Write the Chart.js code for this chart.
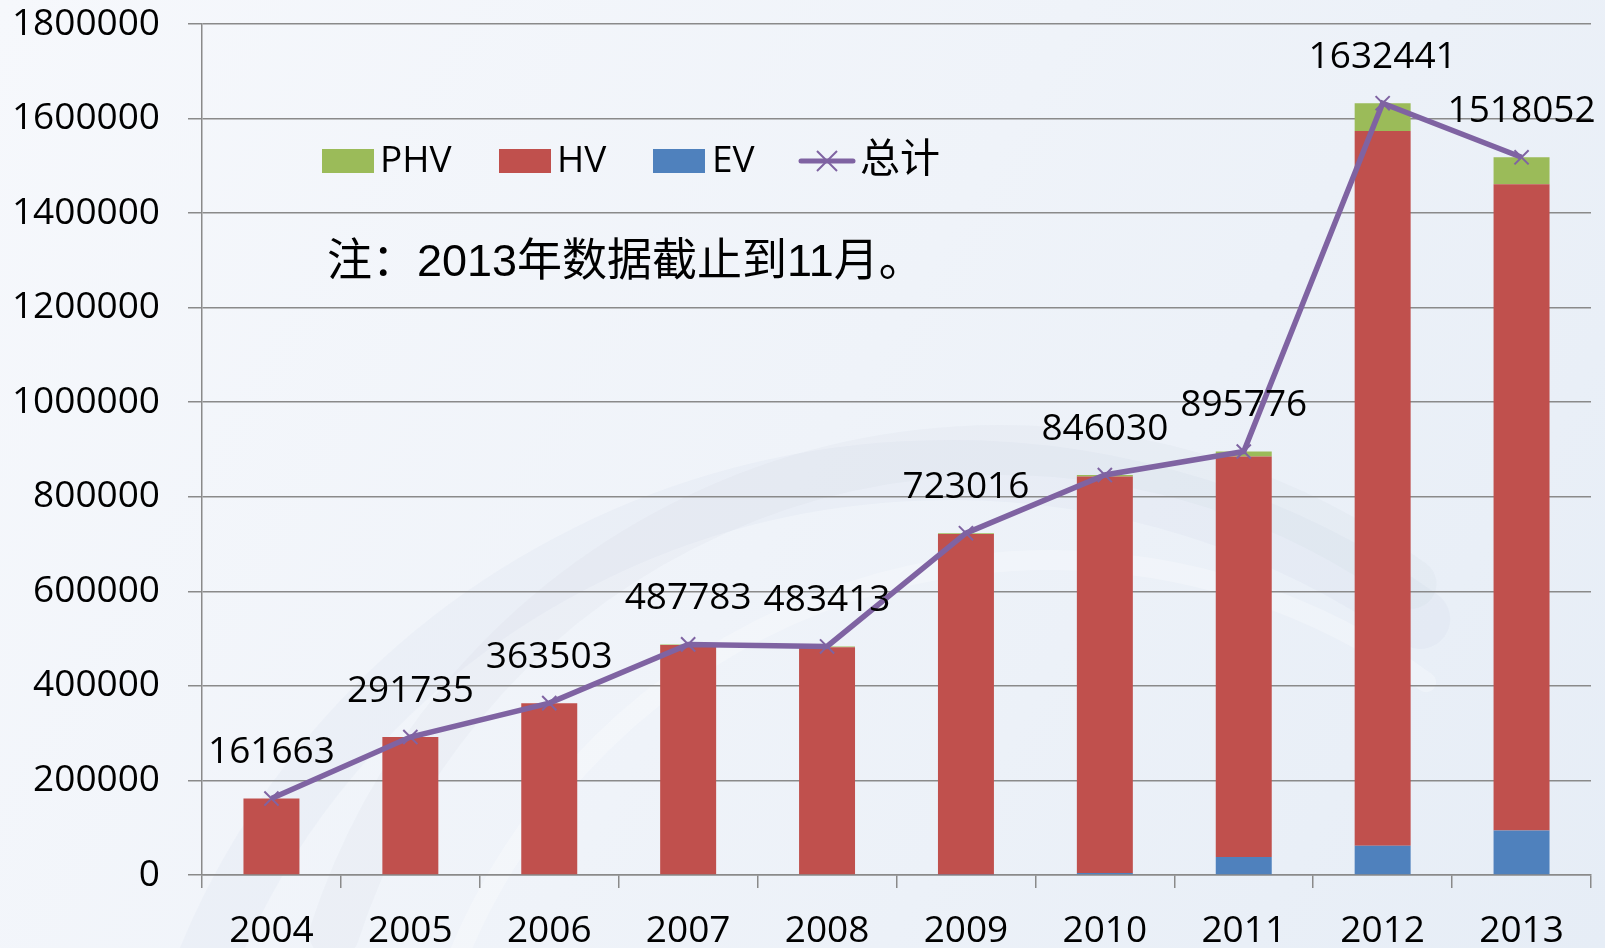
<!DOCTYPE html>
<html>
<head>
<meta charset="utf-8">
<script src="https://cdn.jsdelivr.net/npm/chart.js@4.4.1/dist/chart.umd.min.js"></script>
<style>
  html, body { margin: 0; padding: 0; background: #f1f5fa; }
  #wrap { width: 1605px; height: 948px; position: relative; }
  canvas { display: block; }
</style>
</head>
<body>
<div id="wrap"><canvas id="c" width="1605" height="948"></canvas></div>
<script>
// ---- data ----
const categories = ['2004','2005','2006','2007','2008','2009','2010','2011','2012','2013'];
const evValues   = [0, 0, 0, 0, 0, 1000, 4000, 38000, 62000, 94000];
const hvValues   = [161663, 291735, 363503, 486283, 481913, 720016, 839030, 847176, 1511441, 1367052];
const phvValues  = [0, 0, 0, 1500, 1500, 2000, 3000, 10600, 59000, 57000];
const totalValues = [161663, 291735, 363503, 487783, 483413, 723016, 846030, 895776, 1632441, 1518052];
const yTicks = [0, 200000, 400000, 600000, 800000, 1000000, 1200000, 1400000, 1600000, 1800000];
const seriesNames = { phv: 'PHV', hv: 'HV', ev: 'EV', total: '总计' };
const noteText = '注：2013年数据截止到11月。';

const C_PHV = '#9BBB59', C_HV = '#C0504D', C_EV = '#4F81BD', C_TOT = '#7F63A2';
const FONT = '"Open Sans", "Noto Sans CJK SC", sans-serif';

const bgPlugin = {
  id: 'bg',
  beforeDraw(chart) {
    const ctx = chart.ctx, w = chart.width, h = chart.height;
    ctx.save();
    const g = ctx.createLinearGradient(0, 0, w, h);
    g.addColorStop(0, '#f6f8fc');
    g.addColorStop(0.5, '#eff3f9');
    g.addColorStop(1, '#e6edf6');
    ctx.fillStyle = g;
    ctx.fillRect(0, 0, w, h);
    ctx.lineCap = 'round';
    const arcs = [
      [1000, 1150, 700, 700, 'rgba(170,185,205,0.07)', 50],
      [1050, 1200, 640, 640, 'rgba(255,255,255,0.25)', 20],
      [950, 1250, 800, 780, 'rgba(160,178,200,0.06)', 60]
    ];
    arcs.forEach(a => {
      ctx.beginPath();
      ctx.ellipse(a[0], a[1], a[2], a[3], 0, Math.PI * 1.1, Math.PI * 1.7);
      ctx.strokeStyle = a[4];
      ctx.lineWidth = a[5];
      ctx.stroke();
    });
    ctx.restore();
  }
};

const labelPlugin = {
  id: 'valueLabels',
  afterDatasetsDraw(chart) {
    const ctx = chart.ctx;
    const meta = chart.getDatasetMeta(0);
    ctx.save();
    ctx.font = '37px ' + FONT;
    ctx.fillStyle = '#000';
    ctx.textAlign = 'center';
    ctx.textBaseline = 'middle';
    meta.data.forEach((pt, i) => {
      ctx.fillText(String(totalValues[i]), pt.x, pt.y - 46);
    });
    ctx.restore();
  }
};

const legendPlugin = {
  id: 'customLegend',
  afterDraw(chart) {
    const ctx = chart.ctx;
    ctx.save();
    const cy = 161;
    ctx.font = '37px ' + FONT;
    ctx.fillStyle = '#000';
    ctx.textBaseline = 'middle';
    ctx.textAlign = 'left';
    const items = [
      [322, C_PHV, seriesNames.phv, 380],
      [499, C_HV, seriesNames.hv, 557],
      [653, C_EV, seriesNames.ev, 712]
    ];
    items.forEach(it => {
      ctx.fillStyle = it[1];
      ctx.fillRect(it[0], cy - 12, 52, 24);
      ctx.fillStyle = '#000';
      ctx.fillText(it[2], it[3], cy);
    });
    ctx.strokeStyle = C_TOT;
    ctx.lineWidth = 5;
    ctx.lineCap = 'round';
    ctx.beginPath();
    ctx.moveTo(801, cy); ctx.lineTo(853, cy);
    ctx.stroke();
    ctx.lineWidth = 2;
    ctx.lineCap = 'butt';
    ctx.beginPath();
    ctx.moveTo(827 - 10, cy - 10); ctx.lineTo(827 + 10, cy + 10);
    ctx.moveTo(827 + 10, cy - 10); ctx.lineTo(827 - 10, cy + 10);
    ctx.stroke();
    ctx.fillStyle = '#000';
    ctx.font = '40px ' + FONT;
    ctx.fillText(seriesNames.total, 860, cy);
    ctx.font = '45px "Liberation Sans", "Noto Sans CJK SC", sans-serif';
    ctx.fillText(noteText, 327, 264);
    ctx.restore();
  }
};

new Chart(document.getElementById('c'), {
  type: 'bar',
  data: {
    labels: categories,
    datasets: [
      {
        type: 'line', label: seriesNames.total, data: totalValues, stack: 'total',
        borderColor: C_TOT, backgroundColor: C_TOT, borderWidth: 5.5, tension: 0,
        pointStyle: 'crossRot', pointRadius: 10, pointBorderWidth: 2,
        pointBorderColor: C_TOT, pointHoverRadius: 10
      },
      { label: seriesNames.ev, data: evValues, backgroundColor: C_EV, stack: 's' },
      { label: seriesNames.hv, data: hvValues, backgroundColor: C_HV, stack: 's' },
      { label: seriesNames.phv, data: phvValues, backgroundColor: C_PHV, stack: 's' }
    ]
  },
  options: {
    responsive: false,
    animation: false,
    devicePixelRatio: 1,
    layout: { padding: { top: 24, right: 14, left: 0, bottom: 0 } },
    datasets: { bar: { categoryPercentage: 1.0, barPercentage: 0.403 } },
    plugins: { legend: { display: false }, tooltip: { enabled: false } },
    scales: {
      x: {
        stacked: true,
        grid: { drawOnChartArea: false, drawTicks: true, tickLength: 13, color: '#8a8a8a', lineWidth: 1.5, offset: true },
        border: { color: '#8a8a8a', width: 1.5 },
        ticks: { color: '#000', font: { family: FONT, size: 37 }, padding: 21, maxRotation: 0, autoSkip: false },
        afterFit(s) { s.height = 73; s.paddingLeft = 0; s.paddingRight = 0; }
      },
      y: {
        stacked: true,
        min: 0, max: 1800000,
        afterBuildTicks(s) { s.ticks = yTicks.map(v => ({ value: v })); },
        grid: { color: '#8a8a8a', lineWidth: 1.5, tickLength: 14 },
        border: { color: '#8a8a8a', width: 1.5 },
        ticks: { color: '#000', font: { family: FONT, size: 37 }, padding: 28, callback: v => String(v) },
        afterFit(s) { s.width = 202; s.paddingTop = 0; s.paddingBottom = 0; }
      }
    }
  },
  plugins: [bgPlugin, labelPlugin, legendPlugin]
});
</script>
</body>
</html>
